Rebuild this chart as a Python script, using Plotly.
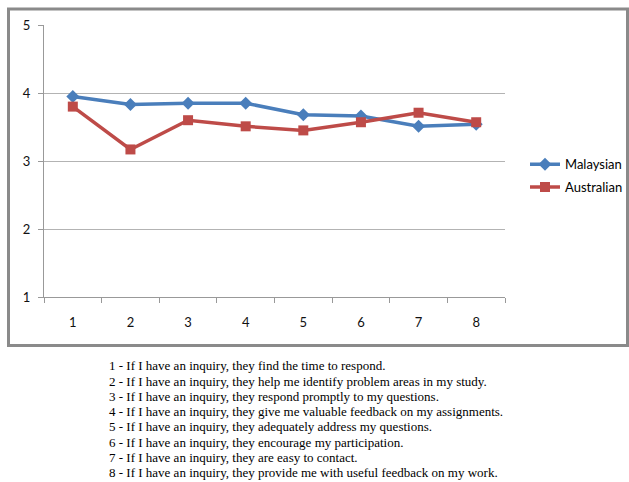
import plotly.graph_objects as go

items = ["1", "2", "3", "4", "5", "6", "7", "8"]
malaysian = [3.95, 3.83, 3.85, 3.85, 3.68, 3.66, 3.51, 3.54]
australian = [3.80, 3.17, 3.60, 3.51, 3.45, 3.57, 3.71, 3.57]
descriptions = [
    "1 - If I have an inquiry, they find the time to respond.",
    "2 - If I have an inquiry, they help me identify problem areas in my study.",
    "3 - If I have an inquiry, they respond promptly to my questions.",
    "4 - If I have an inquiry, they give me valuable feedback on my assignments.",
    "5 - If I have an inquiry, they adequately address my questions.",
    "6 - If I have an inquiry, they encourage my participation.",
    "7 - If I have an inquiry, they are easy to contact.",
    "8 - If I have an inquiry, they provide me with useful feedback on my work.",
]

W, H = 629, 482
sans = "Lato, Liberation Sans, sans-serif"
serif = "Liberation Serif, Times New Roman, serif"

# plot area in pixels
L, R, T, B = 44, 505, 24.5, 297
pw, ph = R - L, B - T


def px(x):
    return (x - L) / pw


def py(y):
    return (B - y) / ph


fig = go.Figure()
fig.add_trace(go.Scatter(
    x=items, y=malaysian, name="Malaysian", mode="lines+markers",
    line=dict(color="#4A7EBB", width=3.5),
    marker=dict(symbol="diamond", size=10, color="#4A7EBB"),
    legendgroup="m",
))
fig.add_trace(go.Scatter(
    x=items, y=australian, name="Australian", mode="lines+markers",
    line=dict(color="#BE4B48", width=3.5),
    marker=dict(symbol="square", size=10, color="#BE4B48"),
    legendgroup="a",
))

# key to the numbered items, one line each
for i, text in enumerate(descriptions):
    fig.add_annotation(
        x=px(107), y=py(366 + i * 15.3), xref="paper", yref="paper",
        text=text, showarrow=False, xanchor="left", yanchor="middle",
        font=dict(family=serif, size=13, color="#000"),
    )

# outer gray border around the chart area
fig.add_shape(type="rect", xref="paper", yref="paper",
              x0=px(8.5), x1=px(627.5), y0=py(345.5), y1=py(8.5),
              line=dict(color="#8a8a8a", width=3))

fig.update_layout(
    width=W, height=H,
    margin=dict(l=L, r=W - R, t=T, b=H - B, autoexpand=False),
    paper_bgcolor="white", plot_bgcolor="white",
    showlegend=True,
    legend=dict(
        x=px(525), y=py(149),
        xanchor="left", yanchor="top",
        font=dict(family=sans, size=13, color="#000"),
        itemwidth=30, tracegroupgap=3, bgcolor="rgba(0,0,0,0)",
    ),
    xaxis=dict(
        type="category", range=[-0.5, 7.5], tickson="boundaries",
        ticks="outside", ticklen=5, tickcolor="#999", showline=True,
        linecolor="#999", linewidth=1, showgrid=False,
        ticklabelstandoff=13,
        tickfont=dict(family=sans, size=13, color="#111"),
    ),
    yaxis=dict(
        range=[1, 5], dtick=1, ticks="outside", ticklen=5, tickcolor="#999",
        showline=True, linecolor="#999", linewidth=1,
        showgrid=True, gridcolor="#b3b3b3", gridwidth=1,
        ticklabelstandoff=5,
        tickfont=dict(family=sans, size=13, color="#111"),
        zeroline=False,
    ),
)

fig.write_html("out.html")
